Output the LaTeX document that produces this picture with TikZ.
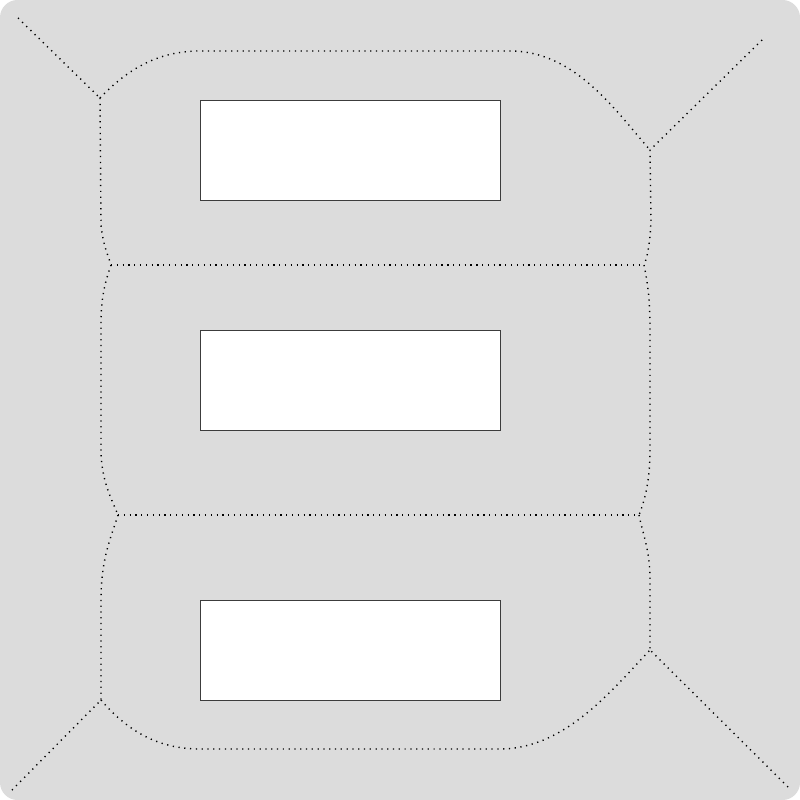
\documentclass[tikz,border=0pt]{standalone}
\usepackage{tikz}
\usetikzlibrary{positioning}
\definecolor{bggray}{HTML}{DCDCDC}
\definecolor{edgegray}{HTML}{3C3C3C}
\begin{document}
\begin{tikzpicture}[x=0.02cm, y=-0.02cm,
            % Define the styles for panels and skeleton lines
            panel/.style={rectangle, draw=edgegray, line width=0.5pt, fill=white,
                minimum width=6cm, minimum height=2cm, inner sep=0pt},
            skeleton/.style={black, line width=0.8pt, dash pattern=on 0.7pt off 2.6pt},
            ]

            \useasboundingbox (0,0) rectangle (800,800);

            % Background
            \fill[bggray, rounded corners=0.35cm] (0,0) rectangle (800,800);

            % Panels
            \foreach \i/\y in {1/150,2/380,3/650}
                \node[panel] (P-\i) at (350,\y) {};

            % Junctions of the skeleton
            \coordinate (C-tl) at (18,18);
            \coordinate (C-tr) at (762,40);
            \coordinate (C-bl) at (12,790);
            \coordinate (C-br) at (788,787);
            \coordinate (J-1) at (100,98);
            \coordinate (J-2) at (111,265);
            \coordinate (J-3) at (118,515);
            \coordinate (J-4) at (101,700);
            \coordinate (J-5) at (650,150);
            \coordinate (J-6) at (644,265);
            \coordinate (J-7) at (639,515);
            \coordinate (J-8) at (650,650);

            % Corner branches
            \draw[skeleton] (C-tl) -- (J-1);
            \draw[skeleton] (C-tr) -- (J-5);
            \draw[skeleton] (C-bl) -- (J-4);
            \draw[skeleton] (C-br) -- (J-8);

            % Top and bottom arcs
            \draw[skeleton] (J-1) .. controls (125,72) and (155,51) .. (200,51) -- (510,51)
                .. controls (575,51) and (615,110) .. (J-5);
            \draw[skeleton] (J-4) .. controls (125,728) and (155,749) .. (200,749) -- (500,749)
                .. controls (565,749) and (612,690) .. (J-8);

            % Cross lines between the panels
            \draw[skeleton] (J-2) -- (J-6);
            \draw[skeleton] (J-3) -- (J-7);

            % Left side
            \draw[skeleton] (J-1) -- (101,225) .. controls (103,245) and (108,255) .. (J-2);
            \draw[skeleton] (J-2) .. controls (104,285) and (101,300) .. (101,325) -- (101,450)
                .. controls (101,480) and (112,500) .. (J-3);
            \draw[skeleton] (J-3) .. controls (110,540) and (101,560) .. (101,600) -- (J-4);

            % Right side
            \draw[skeleton] (J-5) -- (651,220) .. controls (650,245) and (647,258) .. (J-6);
            \draw[skeleton] (J-6) .. controls (648,285) and (650,300) .. (650,330) -- (650,450)
                .. controls (650,480) and (645,500) .. (J-7);
            \draw[skeleton] (J-7) .. controls (643,535) and (650,550) .. (650,580) -- (J-8);

        \end{tikzpicture}
\end{document}
